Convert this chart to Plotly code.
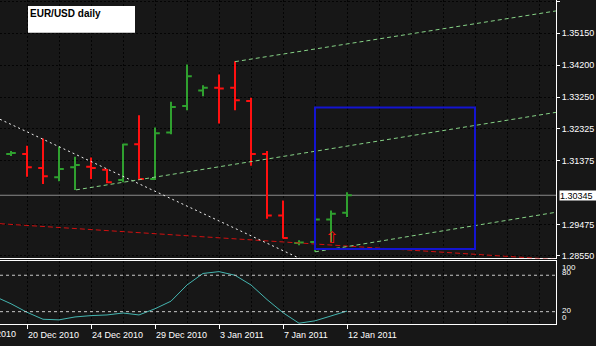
import plotly.graph_objects as go

W, H = 596, 346

# ---------------- data ----------------
bar_index = list(range(22))  # 19 Dec 2010 (Sun) ... 12 Jan 2011
opens  = [1.31564, 1.31564, 1.31152, 1.30878, 1.31172, 1.31190, 1.31102, 1.30798,
          1.31859, 1.30828, 1.32204, 1.32987, 1.33450, 1.33529, 1.33529, 1.33135,
          1.31564, 1.29746, 1.28927, 1.28963, 1.29628, 1.29826]
highs  = [1.31653, 1.31809, 1.32027, 1.31791, 1.31485, 1.31467, 1.31122, 1.31874,
          1.32713, 1.32351, 1.33117, 1.34216, 1.33606, 1.33921, 1.34313, 1.33235,
          1.31653, 1.30188, 1.29010, 1.29649, 1.29894, 1.30436]
lows   = [1.31505, 1.30895, 1.30680, 1.30760, 1.30504, 1.30828, 1.30701, 1.30730,
          1.30798, 1.30798, 1.32154, 1.32861, 1.33282, 1.32469, 1.32861, 1.31220,
          1.29649, 1.29060, 1.28862, 1.28668, 1.28963, 1.29699]
closes = [1.31594, 1.31172, 1.30907, 1.31122, 1.31240, 1.31152, 1.30730, 1.31850,
          1.30828, 1.32183, 1.32958, 1.33871, 1.33529, 1.33509, 1.33164, 1.31564,
          1.29746, 1.29080, 1.28942, 1.29628, 1.29796, 1.30345]

osc_index = list(range(-1, 22))
osc_values = [45, 33, 19, 7.5, 6.5, 11.3, 13.5, 14.6, 17.8, 14.6, 24.8, 37.3, 64,
              83, 86, 80, 64, 40, 18.3, 1, 4.9, 13, 21]

date_ticks = [1, 5, 9, 13, 17, 21]
date_labels = ["20 Dec 2010", "24 Dec 2010", "29 Dec 2010", "3 Jan 2011", "7 Jan 2011", "12 Jan 2011"]

price_ticks = [1.36100, 1.35150, 1.34200, 1.33250, 1.32325, 1.31375, 1.29475, 1.28550]
price_labels = ["1.36100", "1.35150", "1.34200", "1.33250", "1.32325", "1.31375", "1.29475", "1.28550"]
last_price = 1.30345

# trendline anchors (bar index, price)
white_line = [(-0.6875, 1.32596), (18.0625, 1.28470)]
red_line = [(-0.6875, 1.29502), (34.0625, 1.28441)]
green_lines = [[(4.0625, 1.30504), (34.0625, 1.32802)],
               [(14.0, 1.34304), (34.0625, 1.35807)],
               [(19.0, 1.28668), (34.0625, 1.29841)]]
blue_box = [(19.0, 1.28750), (29.0, 1.32949)]
signal_arrow = (20, 1.29104)

osc_levels = [20, 80]

# ---------------- style ----------------
BG = "#171717"
GRID = "#040404"
GREEN = "#2fa02f"
RED = "#ff1010"
FONT = "Liberation Sans"
XR = [-0.6875, 34.0625]

fig = go.Figure()
fig.add_trace(go.Ohlc(x=bar_index, open=opens, high=highs, low=lows, close=closes,
                      increasing=dict(line=dict(color=GREEN, width=2)),
                      decreasing=dict(line=dict(color=RED, width=2)),
                      tickwidth=0.3, xaxis="x", yaxis="y", hoverinfo="skip"))
fig.add_trace(go.Scatter(x=osc_index, y=osc_values, mode="lines",
                         line=dict(color="#45b5b0", width=1),
                         xaxis="x2", yaxis="y2", hoverinfo="skip"))

shapes = []
def seg(p, color, dash):
    shapes.append(dict(type="line", xref="x", yref="y", x0=p[0][0], y0=p[0][1],
                       x1=p[1][0], y1=p[1][1], line=dict(color=color, width=1, dash=dash)))
seg(red_line, "#d01010", "5px,3px")
seg(white_line, "#f0f0f0", "2px,3px")
for g in green_lines:
    seg(g, "#86d286", "4px,3px")
shapes.append(dict(type="rect", xref="x", yref="y", x0=blue_box[0][0], y0=blue_box[0][1],
                   x1=blue_box[1][0], y1=blue_box[1][1], line=dict(color="#1414d0", width=2)))
shapes.append(dict(type="line", xref="x domain", yref="y", x0=0, x1=1, y0=last_price, y1=last_price,
                   line=dict(color="#8a8a8a", width=1), layer="below"))
for lv in osc_levels:
    shapes.append(dict(type="line", xref="x2 domain", yref="y2", x0=0, x1=1, y0=lv, y1=lv,
                       line=dict(color="#c8c8c8", width=1, dash="3px,3px")))
# title box
shapes.append(dict(type="rect", xref="paper", yref="paper", x0=28 / W, x1=135 / W,
                   y0=1 - 33 / H, y1=1 - 6 / H, fillcolor="white", line=dict(width=0)))

annotations = [
    dict(text="<b>EUR/USD daily</b>", xref="paper", yref="paper", x=28 / W, y=1 - 13.5 / H,
         xanchor="left", yanchor="middle", showarrow=False, font=dict(family=FONT, size=10, color="black")),
    dict(text="1.30345", xref="paper", yref="y", x=559 / W, y=last_price, xanchor="left",
         yanchor="middle", showarrow=False, bgcolor="white", borderpad=0, width=37, height=9,
         align="left", font=dict(family=FONT, size=9, color="black")),
    dict(text="15 Dec 2010", xref="paper", yref="paper", x=-37 / W, y=1 - 335.7 / H,
         xanchor="left", yanchor="middle", showarrow=False, font=dict(family=FONT, size=9, color="white")),
    dict(text="⇧", xref="x", yref="y", x=signal_arrow[0], y=signal_arrow[1],
         xanchor="center", yanchor="middle", showarrow=False,
         font=dict(family="DejaVu Sans", size=16, color=RED)),
]
for txt, yy in [("100", 269), ("80", 274.5), ("20", 312.5), ("0", 319)]:
    annotations.append(dict(text=txt, xref="paper", yref="paper", x=559.5 / W, y=1 - yy / H,
                            xanchor="left", yanchor="middle", showarrow=False,
                            font=dict(family=FONT, size=8, color="white")))

xdom = [0, 556 / W]
grid_common = dict(showgrid=True, gridcolor=GRID, griddash="2px,2px", gridwidth=1)

fig.update_layout(
    width=W, height=H, margin=dict(l=0, r=0, t=0, b=0),
    paper_bgcolor=BG, plot_bgcolor=BG, showlegend=False,
    font=dict(family=FONT, size=9, color="white"),
    shapes=shapes, annotations=annotations,
    xaxis=dict(domain=xdom, range=XR, anchor="y", tickmode="array", tickvals=date_ticks,
               showticklabels=False, ticks="", zeroline=False, showline=True, linecolor="white",
               linewidth=1, rangeslider=dict(visible=False),
               minor=dict(tick0=1, dtick=2, showgrid=True, gridcolor=GRID, griddash="2px,2px", ticks=""),
               **grid_common),
    yaxis=dict(domain=[1 - 260 / H, 1], range=[1.28471, 1.36131], anchor="x", side="right",
               tickmode="array", tickvals=price_ticks, ticktext=price_labels,
               ticks="outside", ticklen=3, tickcolor="white", showline=True, linecolor="white",
               linewidth=1, zeroline=False, tickfont=dict(family=FONT, size=9, color="white"),
               **grid_common),
    xaxis2=dict(domain=xdom, range=XR, anchor="y2", matches="x", tickmode="array",
                tickvals=date_ticks, ticktext=date_labels, ticks="outside", ticklen=4,
                tickcolor="white", ticklabelposition="outside right", ticklabelstandoff=2,
                showline=True, mirror=True,
                linecolor="white", linewidth=1, zeroline=False,
                tickfont=dict(family=FONT, size=9, color="white"),
                minor=dict(tick0=1, dtick=2, showgrid=True, gridcolor=GRID, griddash="2px,2px", ticks=""),
                **grid_common),
    yaxis2=dict(domain=[1 - 326 / H, 1 - 263 / H], range=[-0.5, 102.7], anchor="x2", side="right",
                showline=True, linecolor="white", linewidth=1, showticklabels=False, ticks="",
                showgrid=False, zeroline=False),
)

fig.write_html("out.html")
